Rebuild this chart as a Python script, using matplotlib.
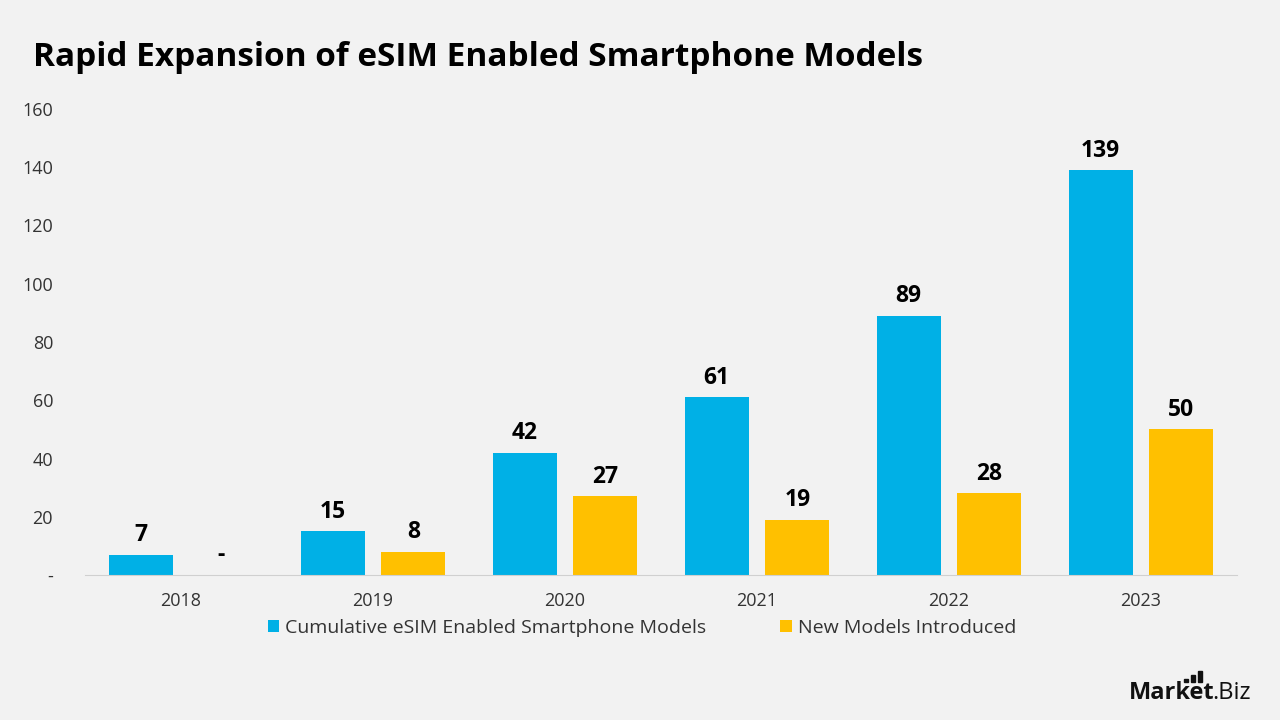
import matplotlib
matplotlib.use("Agg")
import matplotlib.pyplot as plt
from matplotlib.patches import Rectangle
import numpy as np

years = ["2018", "2019", "2020", "2021", "2022", "2023"]
cumulative = [7, 15, 42, 61, 89, 139]
new_models = [0, 8, 27, 19, 28, 50]
series_names = ["Cumulative eSIM Enabled Smartphone Models", "New Models Introduced"]
yticks = [0, 20, 40, 60, 80, 100, 120, 140, 160]
ytick_labels = ["-", "20", "40", "60", "80", "100", "120", "140", "160"]

BLUE = "#00B0E6"
YELLOW = "#FFC000"
BG = "#F2F2F2"
FONT = ["Open Sans", "DejaVu Sans"]
plt.rcParams["font.family"] = FONT

fig = plt.figure(figsize=(12.8, 7.2), dpi=100, facecolor=BG)
ax = fig.add_axes([85/1280, 1-575/720, 1152/1280, (575-109)/720])
ax.set_facecolor(BG)

x = np.arange(len(years))
w = 0.333
off = 0.21
b1 = ax.bar(x - off, cumulative, w, color=BLUE, label=series_names[0])
b2 = ax.bar(x + off, new_models, w, color=YELLOW, label=series_names[1])

def lab(v):
    return "-" if v == 0 else str(v)

for xi, v in zip(x - off, cumulative):
    ax.text(xi, v + 2.6, lab(v), ha="center", va="bottom", fontsize=16.5, fontweight="bold", color="black")
for xi, v in zip(x + off, new_models):
    ax.text(xi, v + 2.6, lab(v), ha="center", va="bottom", fontsize=16.5, fontweight="bold", color="black")

ax.set_xlim(-0.5, len(years) - 0.5)
ax.set_ylim(0, 160)
ax.set_yticks(yticks)
ax.set_yticklabels(ytick_labels)
ax.set_xticks(x)
ax.set_xticklabels(years)
ax.tick_params(axis="both", length=0, labelsize=13, colors="#333333")
ax.tick_params(axis="y", pad=23)
ax.tick_params(axis="x", pad=12)
for s in ["left", "right", "top"]:
    ax.spines[s].set_visible(False)
ax.spines["bottom"].set_color("#D0D0D0")

leg = fig.legend(handles=[b1, b2], labels=series_names, loc="center", bbox_to_anchor=(642/1280, 1-628/720),
                 ncol=2, frameon=False, fontsize=14, handlelength=0.6, handleheight=0.6,
                 handletextpad=0.3, columnspacing=3.8, labelcolor="#333333")

fig.text(33/1280, 1-58/720, "Rapid Expansion of eSIM Enabled Smartphone Models", fontsize=24,
         fontweight="bold", color="black", ha="left", va="center")

# logo
fig.text(1129/1280, 1-693/720, "Market", fontsize=17, fontweight="bold", color="#111111", ha="left", va="center")
fig.text(1212/1280, 1-693/720, ".Biz", fontsize=17, color="#111111", ha="left", va="center")
bars_x = [1184, 1191, 1198]
bars_top = [679, 675, 671]
for bx, bt in zip(bars_x, bars_top):
    fig.patches.append(Rectangle((bx/1280, (720-682)/720), 4/1280, (682-bt)/720, transform=fig.transFigure,
                                 color="#111111"))

fig.savefig("out.png", dpi=100, facecolor=BG)
